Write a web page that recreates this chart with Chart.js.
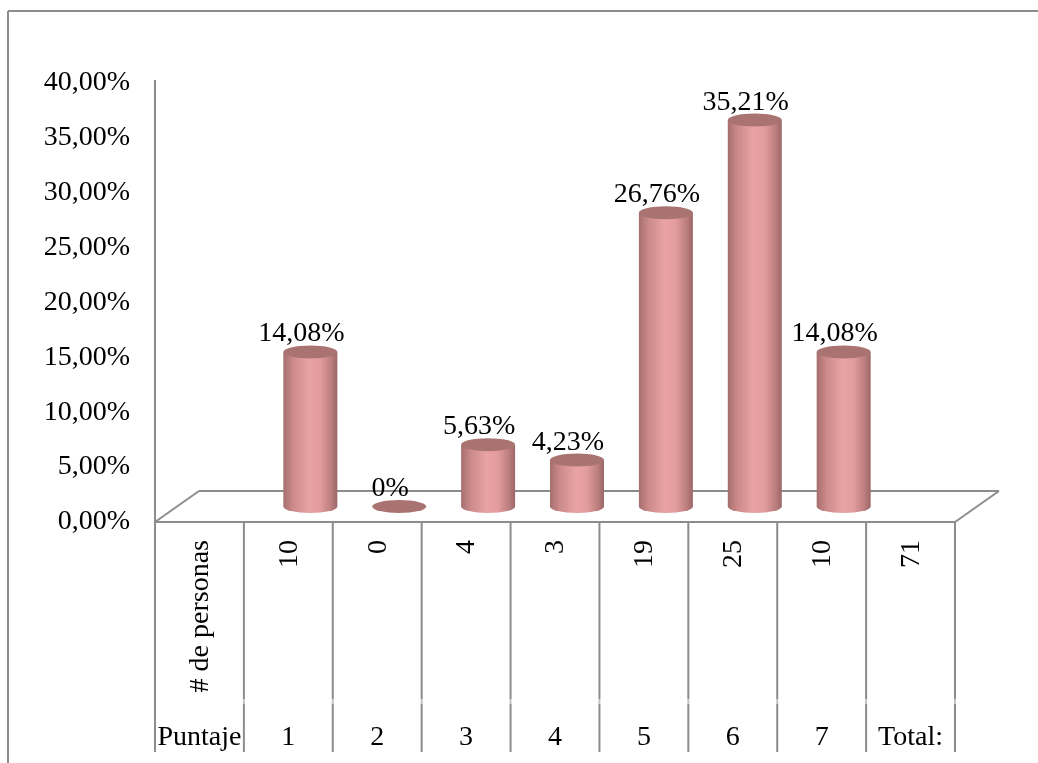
<!DOCTYPE html>
<html lang="es">
<head>
<meta charset="utf-8">
<title>Puntaje</title>
<script src="https://cdn.jsdelivr.net/npm/chart.js@4.4.1/dist/chart.umd.min.js"></script>
<style>
  html, body { margin: 0; padding: 0; background: #fff; }
  canvas { display: block; }
</style>
</head>
<body>
<canvas id="puntajeChart" width="1038" height="763"></canvas>
<script>
// Datos de la encuesta
var puntajes = ['1', '2', '3', '4', '5', '6', '7'];
var personas = [10, 0, 4, 3, 19, 25, 10];
var porcentajes = [14.08, 0, 5.63, 4.23, 26.76, 35.21, 14.08];
var total = 71;
var ejeTicks = [0, 5, 10, 15, 20, 25, 30, 35, 40];

var FAMILIA = '"Liberation Serif", "DejaVu Serif", serif';
var FUENTE = '28px ' + FAMILIA;
var GRIS = '#8c8c8c';
var DX = 22, DY = -15.5;   // mitad de la profundidad del piso 3D
var FONDO_TABLA = 752;

function formato(v) {
    return v === 0 ? '0%' : v.toFixed(2).replace('.', ',') + '%';
}

function linea(ctx, x1, y1, x2, y2, color) {
    ctx.beginPath();
    ctx.moveTo(x1, y1);
    ctx.lineTo(x2, y2);
    ctx.strokeStyle = color || GRIS;
    ctx.stroke();
}

function cilindro(ctx, cx, top, base, r, ry) {
    if (base - top > 0.5) {
        var g = ctx.createLinearGradient(cx - r, 0, cx + r, 0);
        g.addColorStop(0, '#a66e6e');
        g.addColorStop(0.18, '#cc8a8a');
        g.addColorStop(0.48, '#e9a3a3');
        g.addColorStop(0.68, '#e29c9c');
        g.addColorStop(0.88, '#bd7f7f');
        g.addColorStop(1, '#9c6767');
        ctx.beginPath();
        ctx.moveTo(cx - r, top);
        ctx.lineTo(cx - r, base);
        ctx.ellipse(cx, base, r, ry, 0, Math.PI, 0, true);
        ctx.lineTo(cx + r, top);
        ctx.closePath();
        ctx.fillStyle = g;
        ctx.fill();
    }
    ctx.beginPath();
    ctx.ellipse(cx, top, r, ry, 0, 0, Math.PI * 2);
    ctx.fillStyle = '#a97371';
    ctx.fill();
}

// Marco, piso y tabla de categorías
var tablaPlugin = {
    id: 'tabla',
    beforeDraw: function(chart) {
        var ctx = chart.ctx;
        var area = chart.chartArea;
        var xs = chart.scales.x;
        var y0 = chart.scales.y.getPixelForValue(0);
        var colW = (area.right - area.left) / xs.ticks.length;

        ctx.save();
        ctx.lineWidth = 2;

        // marco exterior
        linea(ctx, 8, 11, chart.width, 11);
        linea(ctx, 8, 11, 8, chart.height);

        // eje vertical
        linea(ctx, area.left, area.top - 3, area.left, FONDO_TABLA);

        // piso
        linea(ctx, area.left, y0, area.right, y0);
        linea(ctx, area.left, y0, area.left + 2 * DX, y0 + 2 * DY);
        linea(ctx, area.left + 2 * DX, y0 + 2 * DY, area.right + 2 * DX, y0 + 2 * DY);
        linea(ctx, area.right, y0, area.right + 2 * DX, y0 + 2 * DY);

        // columnas de la tabla
        for (var k = 1; k <= xs.ticks.length; k++) {
            var x = area.left + k * colW;
            linea(ctx, x, y0, x, 699);
            linea(ctx, x, 699, x, 704, '#c4c4c4');
            linea(ctx, x, 704, x, FONDO_TABLA);
        }

        ctx.fillStyle = '#000';
        ctx.font = FUENTE;

        // fila "# de personas" (texto girado)
        var filaPersonas = ['# de personas'].concat(personas.map(String), [String(total)]);
        filaPersonas.forEach(function(t, i) {
            ctx.save();
            ctx.translate(xs.getPixelForValue(i) + 1, 540);
            ctx.rotate(-Math.PI / 2);
            ctx.textAlign = 'right';
            ctx.textBaseline = 'middle';
            ctx.fillText(t, 0, 0);
            ctx.restore();
        });

        // fila "Puntaje"
        ctx.textAlign = 'center';
        ctx.textBaseline = 'alphabetic';
        xs.ticks.forEach(function(tk, i) {
            ctx.fillText(xs.getLabelForValue(i), xs.getPixelForValue(i), 745);
        });
        ctx.restore();
    },
    afterDatasetsDraw: function(chart) {
        var ctx = chart.ctx;
        var meta = chart.getDatasetMeta(0);
        var ry = 6.5;
        ctx.save();
        meta.data.forEach(function(bar, i) {
            var v = chart.data.datasets[0].data[i];
            if (v === null || v === undefined) return;
            var cx = bar.x + DX;
            var top = bar.y + DY;
            var base = bar.base + DY;
            cilindro(ctx, cx, top, base, bar.width / 2, ry);

            ctx.fillStyle = '#000';
            ctx.font = FUENTE;
            ctx.textAlign = 'center';
            ctx.textBaseline = 'alphabetic';
            ctx.fillText(formato(v), cx - 9, top - ry - 4);
        });
        ctx.restore();
    }
};

var ctx = document.getElementById('puntajeChart').getContext('2d');

new Chart(ctx, {
    type: 'bar',
    data: {
        labels: ['Puntaje'].concat(puntajes, ['Total:']),
        datasets: [{
            label: '# de personas',
            data: [null].concat(porcentajes, [null]),
            backgroundColor: 'rgba(0,0,0,0)',
            borderWidth: 0,
            barThickness: 54
        }]
    },
    options: {
        responsive: false,
        animation: false,
        layout: {
            padding: { top: 83, right: 83, bottom: 241, left: 0 }
        },
        plugins: {
            legend: { display: false },
            tooltip: { enabled: false }
        },
        scales: {
            x: {
                display: false
            },
            y: {
                min: 0,
                max: 40,
                afterBuildTicks: function(scale) {
                    scale.ticks = ejeTicks.map(function(v) { return { value: v }; });
                },
                afterFit: function(scale) {
                    scale.width = 155;
                },
                grid: { display: false, drawTicks: false },
                border: { display: false },
                ticks: {
                    padding: 25,
                    color: '#000',
                    font: { family: FAMILIA, size: 28 },
                    callback: function(v) {
                        return v.toFixed(2).replace('.', ',') + '%';
                    }
                }
            }
        }
    },
    plugins: [tablaPlugin]
});
</script>
</body>
</html>
